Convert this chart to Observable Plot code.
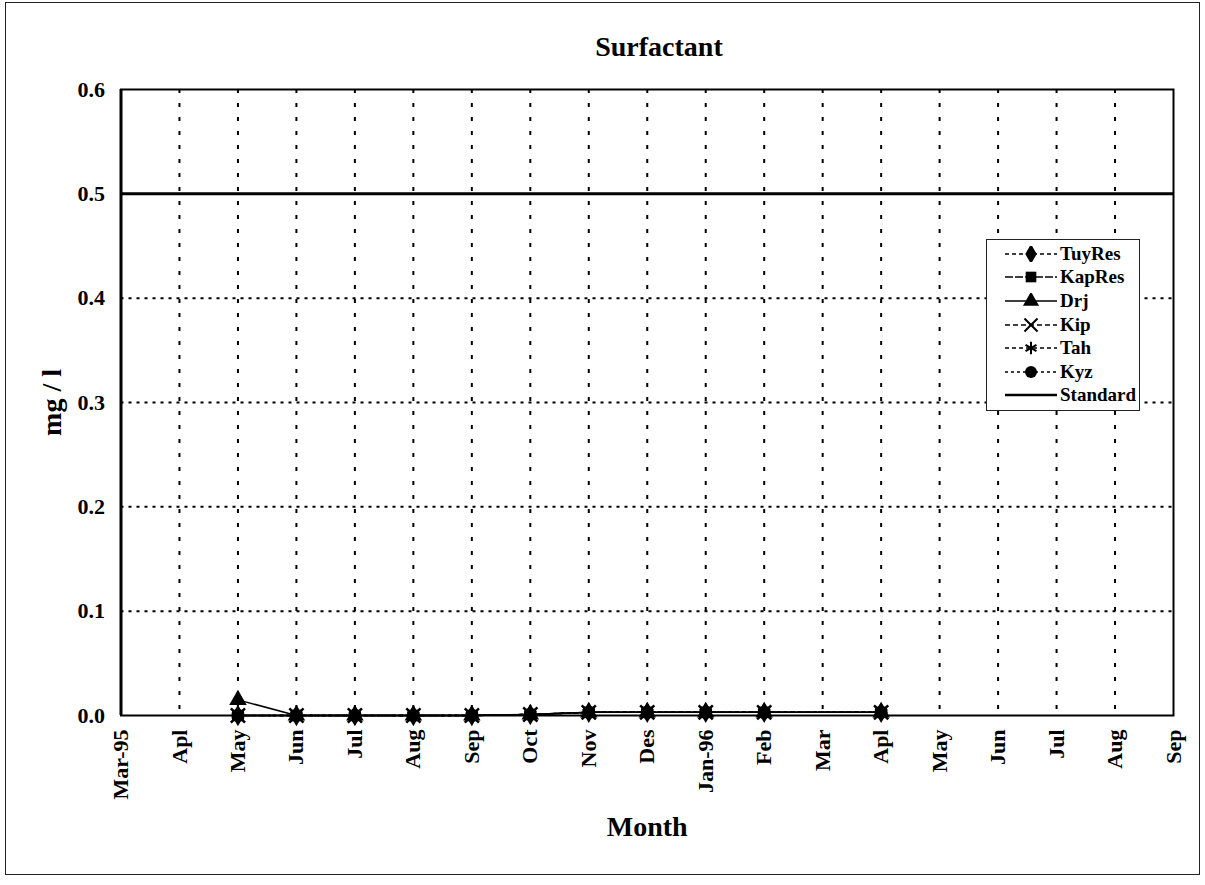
<!DOCTYPE html>
<html>
<head>
<meta charset="utf-8">
<script src="https://cdn.jsdelivr.net/npm/d3@7"></script>
<script src="https://cdn.jsdelivr.net/npm/@observablehq/plot@0.6"></script>
<style>
  html, body { margin: 0; padding: 0; background: #fff; }
  #wrap { position: relative; width: 1205px; height: 885px; overflow: hidden; font-family: "Liberation Serif", "DejaVu Serif", serif; font-weight: bold; }
  #border { position: absolute; left: 5px; top: 2px; width: 1195px; height: 873px; border: 1.5px solid #222; box-sizing: border-box; pointer-events: none; }
  #title { position: absolute; left: 559px; width: 200px; top: 30px; text-align: center; font-size: 28px; line-height: 34px; color: #000; }
  #chart { position: absolute; left: 0; top: 0; }
  #legend { position: absolute; left: 986px; top: 239px; width: 154px; height: 172px; border: 1.2px solid #222; box-sizing: border-box; background: #fff; padding-top: 2px; }
  .lrow { height: 23.6px; display: flex; align-items: center; }
  .lrow svg { margin-left: 18px; flex: none; }
  .lrow span { font-size: 19px; margin-left: 3px; color: #000; line-height: 20px; }
  g[aria-label="x-axis label"] text, g[aria-label="y-axis label"] text { font-size: 28px; }
</style>
</head>
<body>
<div id="wrap">
  <div id="chart"></div>
  <div id="title">Surfactant</div>
  <div id="legend"></div>
  <div id="border"></div>
</div>
<script>
// ---- data ----
const months = ["Mar-95","Apl","May","Jun","Jul","Aug","Sep","Oct","Nov","Des","Jan-96","Feb","Mar","Apl","May","Jun","Jul","Aug","Sep"];
const yTicks = [0.0, 0.1, 0.2, 0.3, 0.4, 0.5, 0.6];
const seriesNames = ["TuyRes","KapRes","Drj","Kip","Tah","Kyz"];
const tuyRes = [null,null,0,0,0,0,0,0.001,0.003,0.003,0.003,0.003,null,0.003,null,null,null,null,null];
const kapRes = [null,null,0,0,0,0,0,0.001,0.003,0.003,0.003,0.003,null,0.003,null,null,null,null,null];
const drj    = [null,null,0.015,0,0,0,0,0.001,0.003,0.003,0.003,0.003,null,0.003,null,null,null,null,null];
const kip    = [null,null,0,0,0,0,0,0.001,0.003,0.003,0.003,0.003,null,0.003,null,null,null,null,null];
const tah    = [null,null,0,0,0,0,0,0.001,0.003,0.003,0.003,0.003,null,0.003,null,null,null,null,null];
const kyz    = [null,null,0,0,0,0,0,0.001,0.003,0.003,0.003,0.003,null,0.003,null,null,null,null,null];
const standardValue = 0.5;

const seriesValues = [tuyRes, kapRes, drj, kip, tah, kyz];
const styles = {
  TuyRes: {symbol: "diamond", dash: "4,3", filled: true},
  KapRes: {symbol: "square", dash: "8,2", filled: true},
  Drj:    {symbol: "triangle", dash: null, filled: true},
  Kip:    {symbol: "times", dash: "5,3", filled: false},
  Tah:    {symbol: "asterisk", dash: "4,3", filled: false},
  Kyz:    {symbol: "circle", dash: "3,3", filled: true}
};

const rows = [];
seriesNames.forEach((name, k) => {
  seriesValues[k].forEach((v, i) => { if (v != null) rows.push({series: name, month: i, value: v}); });
});
const monthIndex = months.map((_, i) => i);

const marks = [
  Plot.gridX(monthIndex.slice(1, -1), {stroke: "#000", strokeOpacity: 1, strokeWidth: 2, strokeDasharray: "4,10"}),
  Plot.gridY(yTicks.filter(t => t > 0 && t < standardValue), {stroke: "#000", strokeOpacity: 1, strokeWidth: 2, strokeDasharray: "3,5"}),
  Plot.ruleY([standardValue], {stroke: "#000", strokeWidth: 3}),
  Plot.frame({stroke: "#000", strokeWidth: 2}),
  Plot.ruleX([0], {stroke: "#000", strokeWidth: 3})
];
seriesNames.forEach(name => {
  const st = styles[name];
  const d = rows.filter(r => r.series === name);
  marks.push(Plot.line(d, {x: "month", y: "value", stroke: "#000", strokeWidth: 1.5, strokeDasharray: st.dash || undefined}));
});
// stroked markers first, filled markers on top (as the filled blobs dominate in the picture)
const order = seriesNames.filter(n => !styles[n].filled).concat(seriesNames.filter(n => styles[n].filled));
order.forEach(name => {
  const st = styles[name];
  const d = rows.filter(r => r.series === name);
  marks.push(Plot.dot(d, st.filled
    ? {x: "month", y: "value", symbol: st.symbol, fill: "#000", stroke: "none", r: 6.5}
    : {x: "month", y: "value", symbol: st.symbol, fill: "none", stroke: "#000", strokeWidth: 2.5, r: 6.5}));
});
marks.push(Plot.axisX({ticks: monthIndex, tickFormat: i => months[i], tickRotate: -90, tickSize: 0, tickPadding: 14,
  label: "Month", labelAnchor: "center", labelOffset: 120, labelArrow: "none"}));
marks.push(Plot.axisY({ticks: yTicks, tickFormat: d3.format(".1f"), tickSize: 0, tickPadding: 16,
  label: "mg / l", labelAnchor: "center", labelOffset: 80, labelArrow: "none"}));

const chart = Plot.plot({
  width: 1205,
  height: 885,
  marginLeft: 120.5,
  marginRight: 32,
  marginTop: 89,
  marginBottom: 170,
  style: {fontFamily: "'Liberation Serif', serif", fontWeight: "bold", fontSize: "22px", color: "#000", background: "transparent"},
  x: {type: "linear", domain: [0, 18]},
  y: {domain: [0, 0.6]},
  marks
});
document.getElementById("chart").appendChild(chart);

// legend
const legend = document.getElementById("legend");
const legendItems = seriesNames.map(n => ({name: n, ...styles[n]})).concat([{name: "Standard", symbol: null, dash: null, filled: true}]);
legendItems.forEach(item => {
  const row = document.createElement("div");
  row.className = "lrow";
  const w = 52, h = 16;
  let svg = `<svg width="${w}" height="${h}" viewBox="0 0 ${w} ${h}">`;
  svg += `<line x1="0" x2="${w}" y1="${h/2}" y2="${h/2}" stroke="#000" stroke-width="${item.symbol ? 1.5 : 2.5}" ${item.dash ? `stroke-dasharray="${item.dash}"` : ""}/>`;
  if (item.symbol) {
    const sym = {diamond: d3.symbolDiamond, square: d3.symbolSquare, triangle: d3.symbolTriangle, times: d3.symbolTimes, asterisk: d3.symbolAsterisk, circle: d3.symbolCircle}[item.symbol];
    const p = d3.symbol(sym, Math.PI * 6 * 6)();
    svg += item.filled
      ? `<path transform="translate(${w/2},${h/2})" d="${p}" fill="#000"/>`
      : `<path transform="translate(${w/2},${h/2})" d="${p}" fill="none" stroke="#000" stroke-width="2"/>`;
  }
  svg += `</svg>`;
  row.innerHTML = svg + `<span>${item.name}</span>`;
  legend.appendChild(row);
});
</script>
</body>
</html>
